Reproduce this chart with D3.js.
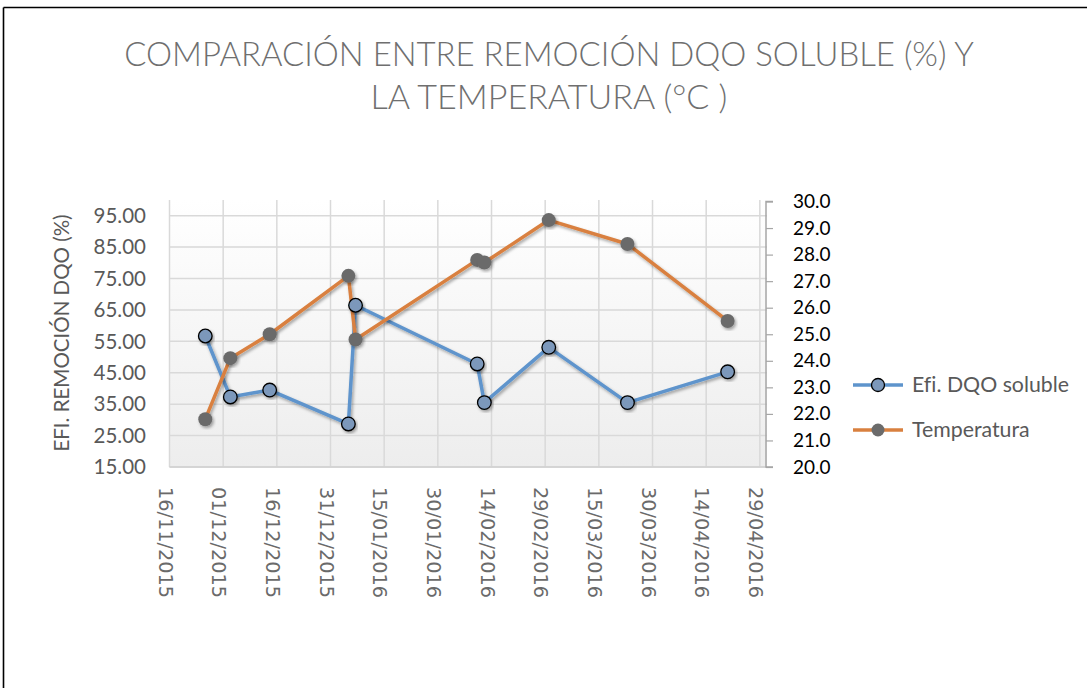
<!DOCTYPE html>
<html>
<head>
<meta charset="utf-8">
<script src="https://cdn.jsdelivr.net/npm/d3@7"></script>
<style>
  body { margin: 0; background: #fff; }
  svg { display: block; }
  text { font-variant-ligatures: none; }
</style>
</head>
<body>
<div class="chart"></div>
<script>
// data
var fechas = ["2015-11-26","2015-12-03","2015-12-14","2016-01-05","2016-01-07",
              "2016-02-10","2016-02-12","2016-03-01","2016-03-23","2016-04-20"];
var efiDQO = [56.7, 37.3, 39.5, 28.7, 66.5, 47.8, 35.5, 53.1, 35.5, 45.3];
var temperatura = [21.8, 24.1, 25.0, 27.2, 24.8, 27.8, 27.7, 29.3, 28.4, 25.5];
var leftTicks = [15, 25, 35, 45, 55, 65, 75, 85, 95];
var rightTicks = [20, 21, 22, 23, 24, 25, 26, 27, 28, 29, 30];
var xTickLabels = ["16/11/2015","01/12/2015","16/12/2015","31/12/2015","15/01/2016","30/01/2016",
                   "14/02/2016","29/02/2016","15/03/2016","30/03/2016","14/04/2016","29/04/2016"];
var titulo = ["COMPARACIÓN ENTRE REMOCIÓN DQO SOLUBLE (%) Y", "LA TEMPERATURA (°C )"];
var seriesNames = ["Efi. DQO soluble", "Temperatura"];

var svgWidth = 1087;
var svgHeight = 688;
var plot = {left: 169.5, right: 767, top: 200, bottom: 467};
var blue = "#5e94cc", orange = "#d9803f", grayText = "#595959";

var parseDate = d3.timeParse("%Y-%m-%d");
var parseTick = d3.timeParse("%d/%m/%Y");

var svg = d3.select(".chart")
            .append("svg")
            .attr("width", svgWidth)
            .attr("height", svgHeight);

var defs = svg.append("defs");
var grad = defs.append("linearGradient").attr("id", "bg")
    .attr("x1", 0).attr("y1", 0).attr("x2", 0).attr("y2", 1);
grad.append("stop").attr("offset", "0%").attr("stop-color", "#ffffff");
grad.append("stop").attr("offset", "100%").attr("stop-color", "#ededed");
defs.append("filter").attr("id", "shadow")
    .attr("x", "-20%").attr("y", "-20%").attr("width", "140%").attr("height", "140%")
    .append("feDropShadow")
    .attr("dx", 1.5).attr("dy", 2).attr("stdDeviation", 1.5)
    .attr("flood-color", "#000").attr("flood-opacity", 0.35);

// outer border (only top and left visible)
svg.append("line").attr("x1", 3.5).attr("x2", svgWidth).attr("y1", 7.5).attr("y2", 7.5)
   .attr("stroke", "#000").attr("stroke-width", 1.6);
svg.append("line").attr("x1", 3.5).attr("x2", 3.5).attr("y1", 7.5).attr("y2", svgHeight)
   .attr("stroke", "#000").attr("stroke-width", 1.6);

var x = d3.scaleTime()
    .domain([parseDate("2015-11-16"), parseDate("2016-05-01")])
    .range([plot.left, plot.right]);
var yLeft = d3.scaleLinear().domain([15, 100]).range([plot.bottom, plot.top]);
var yRight = d3.scaleLinear().domain([20, 30]).range([plot.bottom, 201.5]);

// plot area
svg.append("rect")
    .attr("x", plot.left).attr("y", plot.top)
    .attr("width", plot.right - plot.left).attr("height", plot.bottom - plot.top)
    .attr("fill", "url(#bg)");

svg.selectAll("line.hgrid")
    .data(leftTicks)
    .enter()
    .append("line")
    .attr("class", "hgrid")
    .attr("x1", plot.left).attr("x2", plot.right)
    .attr("y1", function(d) { return yLeft(d); })
    .attr("y2", function(d) { return yLeft(d); })
    .attr("stroke", "#d9d9d9").attr("stroke-width", 1.5);

svg.selectAll("line.vgrid")
    .data(xTickLabels)
    .enter()
    .append("line")
    .attr("class", "vgrid")
    .attr("x1", function(d) { return x(parseTick(d)); })
    .attr("x2", function(d) { return x(parseTick(d)); })
    .attr("y1", plot.top).attr("y2", plot.bottom)
    .attr("stroke", "#d9d9d9").attr("stroke-width", 1.5);

// bottom axis line
svg.append("line").attr("x1", plot.left).attr("x2", plot.right)
   .attr("y1", plot.bottom).attr("y2", plot.bottom)
   .attr("stroke", "#d0d0d0").attr("stroke-width", 1.5);

// left axis labels
svg.selectAll("text.yl")
    .data(leftTicks)
    .enter()
    .append("text")
    .attr("class", "yl")
    .attr("x", 146)
    .attr("y", function(d) { return yLeft(d); })
    .attr("dy", "0.35em")
    .attr("text-anchor", "end")
    .attr("font-family", "Lato, 'Open Sans', sans-serif")
    .attr("font-size", 20.5)
    .attr("fill", grayText)
    .text(function(d) { return d3.format(".2f")(d); });

svg.append("text")
    .attr("transform", "translate(69,333) rotate(-90)")
    .attr("text-anchor", "middle")
    .attr("font-family", "Lato, 'Open Sans', sans-serif")
    .attr("font-size", 20.5)
    .attr("fill", grayText)
    .text("EFI. REMOCIÓN DQO (%)");

// right axis
var rightAxis = d3.axisRight(yRight)
    .tickValues(rightTicks)
    .tickSize(7)
    .tickPadding(20)
    .tickFormat(d3.format(".1f"));
var ra = svg.append("g")
    .attr("transform", "translate(" + (plot.right - 1) + ",0)")
    .call(rightAxis);
ra.select(".domain").attr("stroke", "#a6a6a6").attr("stroke-width", 1.5)
  .attr("d", "M7," + yRight(30) + "H0V" + yRight(20) + "H7");
ra.selectAll(".tick line").attr("stroke", "#a6a6a6").attr("stroke-width", 1.2);
ra.selectAll(".tick text")
  .attr("font-family", "Lato, 'Open Sans', sans-serif")
  .attr("font-size", 19)
  .attr("fill", "#000");

// x axis labels, rotated
svg.selectAll("text.xl")
    .data(xTickLabels)
    .enter()
    .append("text")
    .attr("class", "xl")
    .attr("transform", function(d) {
      return "translate(" + (x(parseTick(d)) - 4) + ",487) rotate(90)";
    })
    .attr("dy", "0.35em")
    .attr("font-family", "'DejaVu Sans', sans-serif")
    .attr("font-size", 19.3)
    .attr("fill", "#6a6a6a")
    .text(function(d) { return d; });

// series
var efiData = fechas.map(function(f, i) { return {date: parseDate(f), v: efiDQO[i]}; });
var tempData = fechas.map(function(f, i) { return {date: parseDate(f), v: temperatura[i]}; });

var lineLeft = d3.line()
    .x(function(d) { return x(d.date); })
    .y(function(d) { return yLeft(d.v); });
var lineRight = d3.line()
    .x(function(d) { return x(d.date); })
    .y(function(d) { return yRight(d.v); });

svg.append("path").datum(efiData)
    .attr("d", lineLeft)
    .attr("fill", "none").attr("stroke", blue).attr("stroke-width", 3.5)
    .attr("stroke-linejoin", "round")
    .attr("filter", "url(#shadow)");
svg.append("path").datum(tempData)
    .attr("d", lineRight)
    .attr("fill", "none").attr("stroke", orange).attr("stroke-width", 3.5)
    .attr("stroke-linejoin", "round")
    .attr("filter", "url(#shadow)");

svg.selectAll("circle.efi")
    .data(efiData)
    .enter()
    .append("circle")
    .attr("class", "efi")
    .attr("cx", function(d) { return x(d.date); })
    .attr("cy", function(d) { return yLeft(d.v); })
    .attr("r", 6.8)
    .attr("fill", "#7c98bb").attr("stroke", "#000").attr("stroke-width", 1.3)
    .attr("filter", "url(#shadow)");

svg.selectAll("circle.temp")
    .data(tempData)
    .enter()
    .append("circle")
    .attr("class", "temp")
    .attr("cx", function(d) { return x(d.date); })
    .attr("cy", function(d) { return yRight(d.v); })
    .attr("r", 7)
    .attr("fill", "#6b6b6b")
    .attr("filter", "url(#shadow)");

// legend
var legend = svg.selectAll("g.legend")
    .data(seriesNames)
    .enter()
    .append("g")
    .attr("class", "legend")
    .attr("transform", function(d, i) { return "translate(853," + (385 + i * 45) + ")"; });
legend.append("line")
    .attr("x1", 0).attr("x2", 50)
    .attr("stroke", function(d, i) { return i === 0 ? blue : orange; })
    .attr("stroke-width", 3.5);
legend.append("circle")
    .attr("cx", 25).attr("r", 6.5)
    .attr("fill", function(d, i) { return i === 0 ? "#7c98bb" : "#6b6b6b"; })
    .attr("stroke", function(d, i) { return i === 0 ? "#000" : "none"; })
    .attr("stroke-width", 1.3);
legend.append("text")
    .attr("x", 59)
    .attr("dy", "0.35em")
    .attr("font-family", "Lato, 'Open Sans', sans-serif")
    .attr("font-size", 21.3)
    .attr("fill", grayText)
    .text(function(d) { return d; });

// title, fitted to the reference line widths
var titleWidths = [850, 357];
svg.selectAll("text.title")
    .data(titulo)
    .enter()
    .append("text")
    .attr("class", "title")
    .attr("x", 549)
    .attr("y", function(d, i) { return 66 + i * 43; })
    .attr("text-anchor", "middle")
    .attr("font-family", "Lato, 'Open Sans', sans-serif")
    .attr("font-weight", 300)
    .attr("font-size", 32)
    .attr("fill", "#6f6f6f")
    .text(function(d) { return d; })
    .each(function(d, i) {
      var w = this.getComputedTextLength();
      d3.select(this).attr("font-size", 32 * titleWidths[i] / w);
    });
</script>
</body>
</html>
